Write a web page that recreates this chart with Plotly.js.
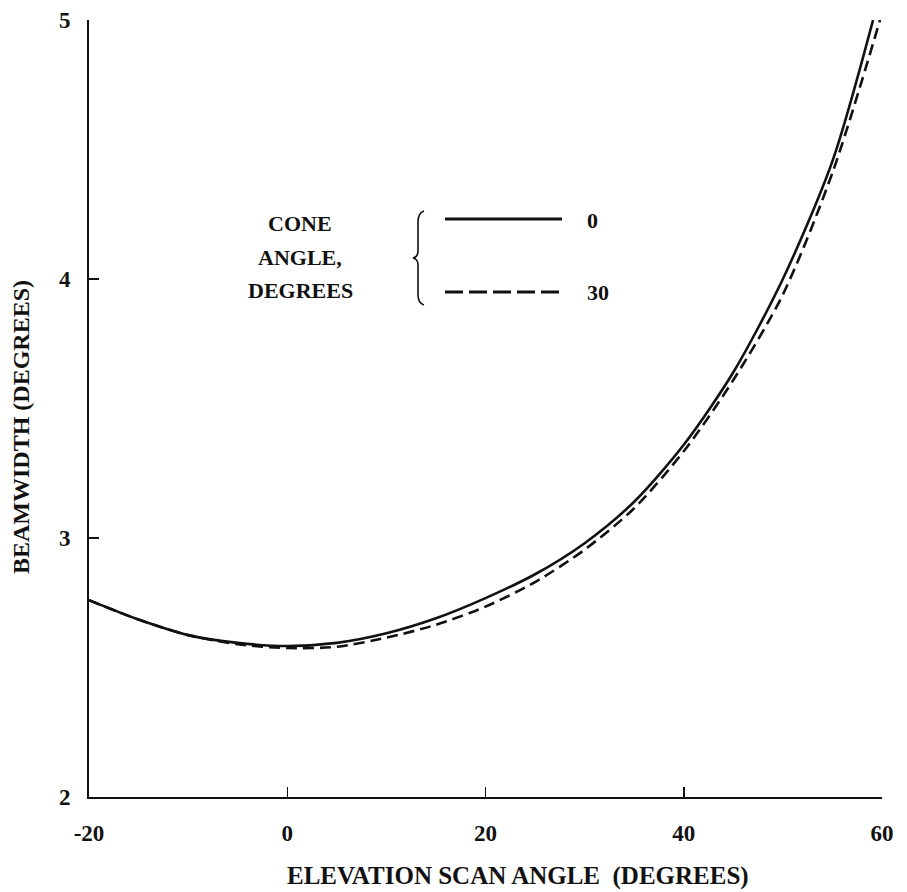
<!DOCTYPE html>
<html>
<head>
<meta charset="utf-8">
<script src="https://cdn.plot.ly/plotly-3.0.1.min.js"></script>
<style>html,body{margin:0;padding:0;background:#fff;}#chart{width:907px;height:892px;}</style>
</head>
<body>
<div id="chart"></div>
<script>
// Data
const angle0 = [-20, -15, -10, -5, 0, 5, 10, 15, 20, 25, 30, 35, 40, 45, 50, 55, 59.1];
const beam0  = [2.76, 2.685, 2.625, 2.595, 2.583, 2.595, 2.632, 2.69, 2.768, 2.86, 2.98, 3.14, 3.36, 3.64, 4.0, 4.455, 5.0];
const angle30 = [-20, -15, -10, -5, 0, 5, 10, 15, 20, 25, 30, 35, 40, 45, 50, 55, 59.8];
const beam30  = [2.76, 2.685, 2.625, 2.59, 2.575, 2.58, 2.615, 2.665, 2.735, 2.83, 2.955, 3.115, 3.335, 3.61, 3.94, 4.41, 5.0];
const xTicks = [-20, 0, 20, 40, 60];
const xTickText = ['-20', '0', '20', '40', '60'];
const yTicks = [2, 3, 4, 5];
const legendTitleLines = ['CONE', 'ANGLE,', 'DEGREES'];
const legendLabels = ['0', '30'];
const xTitle = 'ELEVATION SCAN ANGLE&nbsp;&nbsp;(DEGREES)';
const yTitle = 'BEAMWIDTH (DEGREES)';

// layout geometry (pixels)
const W = 907, H = 892;
const L = 89, R = 882, T = 20, B = 797;
const px = x => (x - L) / (R - L);
const py = y => (B - y) / (B - T);

const FONT = '"Liberation Serif", "Times New Roman", serif';
const textFont = {family: FONT, size: 22, color: '#111', weight: 'bold'};

const traces = [
  {x: angle0, y: beam0, mode: 'lines', line: {color: '#111', width: 2.6, shape: 'spline', smoothing: 0.8}, hoverinfo: 'skip'},
  {x: angle30, y: beam30, mode: 'lines', line: {color: '#111', width: 2.6, dash: '11px,6px', shape: 'spline', smoothing: 0.8}, hoverinfo: 'skip'}
];

const annotations = [];
const legY = [223, 257, 290];
legendTitleLines.forEach((t, i) => {
  annotations.push({xref: 'paper', yref: 'paper', x: px(300), y: py(legY[i]), text: t, showarrow: false,
    xanchor: 'center', yanchor: 'middle', font: textFont});
});
annotations.push({xref: 'paper', yref: 'paper', x: px(585), y: py(220), text: legendLabels[0], showarrow: false,
  xanchor: 'left', yanchor: 'middle', font: textFont});
annotations.push({xref: 'paper', yref: 'paper', x: px(585), y: py(292), text: legendLabels[1], showarrow: false,
  xanchor: 'left', yanchor: 'middle', font: textFont});
annotations.push({xref: 'paper', yref: 'paper', x: px(285), y: py(876), text: xTitle, showarrow: false,
  xanchor: 'left', yanchor: 'middle', font: {family: FONT, size: 25, color: '#111', weight: 'bold'}});
annotations.push({xref: 'paper', yref: 'paper', x: px(21), y: py(427), text: yTitle, showarrow: false, textangle: -90,
  xanchor: 'center', yanchor: 'middle', font: {family: FONT, size: 24, color: '#111', weight: 'bold'}});

function pathPx(cmds) {
  return cmds.map(c => typeof c === 'string' ? c : (px(c[0]).toFixed(5) + ',' + py(c[1]).toFixed(5))).join(' ');
}

const shapes = [
  // legend samples
  {type: 'line', xref: 'paper', yref: 'paper', x0: px(445), x1: px(562), y0: py(219), y1: py(219), line: {color: '#111', width: 3}},
  {type: 'line', xref: 'paper', yref: 'paper', x0: px(445), x1: px(563), y0: py(292), y1: py(292), line: {color: '#111', width: 3, dash: '18px,6px'}},
  // brace
  {type: 'path', xref: 'paper', yref: 'paper', line: {color: '#111', width: 1.6},
    path: pathPx(['M', [424, 211], 'Q', [418, 213], [418, 222], 'L', [418, 251], 'Q', [418, 257], [413, 258],
      'Q', [418, 259], [418, 265], 'L', [418, 295], 'Q', [418, 303], [424, 305]])}
];

const layout = {
  width: W, height: H,
  margin: {l: L, r: W - R, t: T, b: H - B, pad: 0},
  paper_bgcolor: '#fff', plot_bgcolor: '#fff',
  showlegend: false,
  font: {family: FONT, size: 20, color: '#111'},
  xaxis: {range: [-20, 60], tickvals: xTicks, ticktext: xTickText, ticks: 'inside', ticklen: 10, tickwidth: 1.5,
    tickcolor: '#111', showline: true, linecolor: '#111', linewidth: 2, showgrid: false, zeroline: false,
    tickfont: {family: FONT, size: 23, color: '#111', weight: 'bold'}, ticklabelstandoff: 14, fixedrange: true},
  yaxis: {range: [2, 5], tickvals: yTicks, ticks: 'inside', ticklen: 10, tickwidth: 1.5,
    tickcolor: '#111', showline: true, linecolor: '#111', linewidth: 2, showgrid: false, zeroline: false,
    tickfont: {family: FONT, size: 23, color: '#111', weight: 'bold'}, ticklabelstandoff: 12, fixedrange: true},
  annotations: annotations,
  shapes: shapes
};

Plotly.newPlot('chart', traces, layout, {displayModeBar: false, staticPlot: true});
</script>
</body>
</html>
